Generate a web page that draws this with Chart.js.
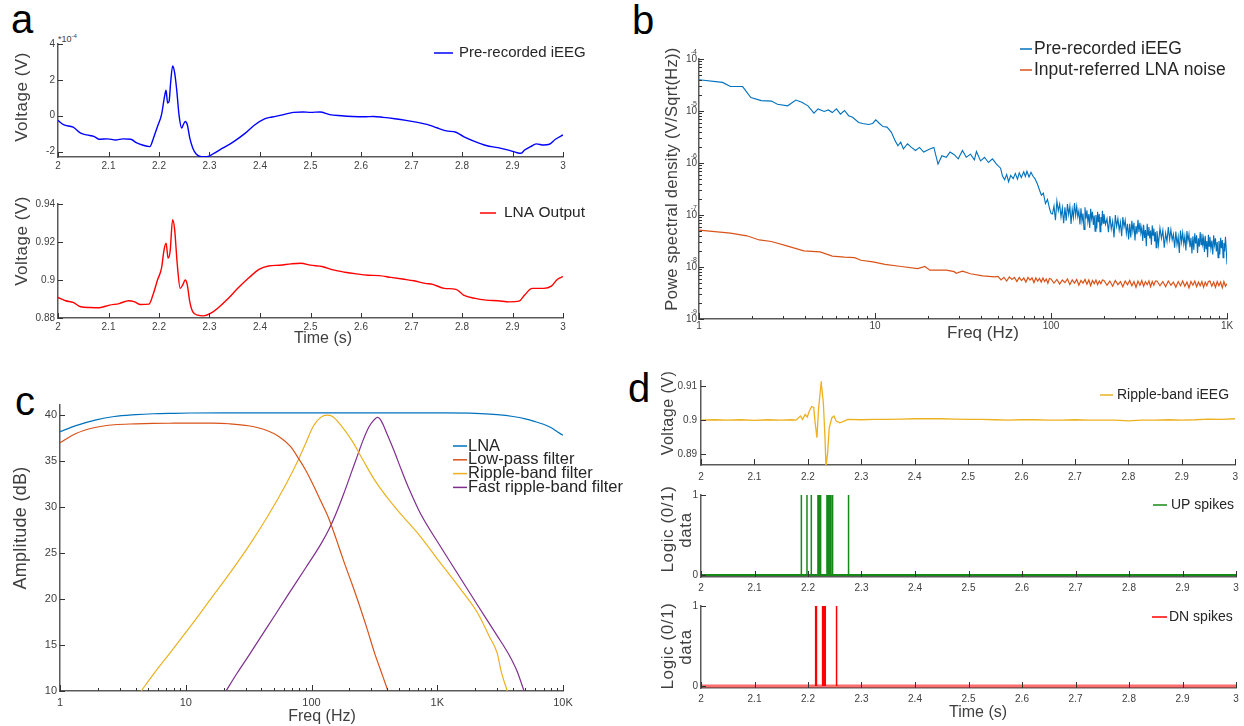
<!DOCTYPE html>
<html><head><meta charset="utf-8">
<script src="https://cdn.jsdelivr.net/npm/chart.js@4/dist/chart.umd.min.js"></script>
<style>
html,body{margin:0;padding:0;background:#fff;width:1244px;height:726px;overflow:hidden;position:relative;font-family:'Liberation Sans',Arial,sans-serif;}
canvas{position:absolute;}
.lbl{position:absolute;font-size:40px;line-height:40px;color:#000;}
.exp{position:absolute;font-size:9px;line-height:10px;color:#404040;}
.exp sup{font-size:6px;}
</style></head><body>
<div class="lbl" style="left:11px;top:-1px">a</div>
<div class="lbl" style="left:632px;top:0px">b</div>
<div class="lbl" style="left:15px;top:381px">c</div>
<div class="lbl" style="left:628px;top:368px">d</div>
<div class="exp" style="left:58px;top:31px">*10<sup>-4</sup></div>
<canvas id="cA1"></canvas><canvas id="cA2"></canvas><canvas id="cB"></canvas><canvas id="cC"></canvas>
<canvas id="cD1"></canvas><canvas id="cD2"></canvas><canvas id="cD3"></canvas>
<script>
// ---------------- DATA ----------------
// Panel a (top): pre-recorded iEEG, in units of 1e-4 V
const timeA = [2.0,2.011,2.03,2.045,2.057,2.072,2.082,2.098,2.114,2.129,2.144,2.155,2.167,2.182,2.189,2.197,2.205,2.211,2.214,2.217,2.22,2.223,2.227,2.231,2.235,2.24,2.245,2.248,2.252,2.256,2.261,2.267,2.274,2.284,2.295,2.307,2.326,2.348,2.371,2.39,2.409,2.424,2.447,2.466,2.485,2.5,2.519,2.538,2.561,2.583,2.606,2.625,2.644,2.667,2.689,2.712,2.735,2.75,2.769,2.788,2.803,2.826,2.848,2.871,2.894,2.909,2.917,2.924,2.936,2.947,2.962,2.973,2.985,3.0];
const iEEG = [-0.26,-0.5,-0.64,-0.97,-1.07,-1.16,-1.31,-1.29,-1.35,-1.29,-1.31,-1.5,-1.63,-1.72,-1.25,-0.6,0.06,1.08,1.42,0.71,0.8,1.83,2.77,2.39,1.46,-0.04,-0.69,-0.5,-0.32,-0.5,-1.25,-1.81,-2.15,-2.28,-2.28,-2.13,-1.81,-1.44,-0.97,-0.5,-0.17,-0.07,0.06,0.19,0.21,0.19,0.21,0.06,0,-0.04,-0.06,-0.04,-0.09,-0.17,-0.26,-0.37,-0.52,-0.67,-0.84,-0.92,-1.16,-1.44,-1.66,-1.78,-1.93,-2.06,-2.09,-1.91,-1.72,-1.57,-1.63,-1.59,-1.31,-1.07];
// Panel a (bottom): LNA output, V
const timeLNA = [2.0,2.015,2.03,2.045,2.064,2.082,2.102,2.121,2.14,2.152,2.163,2.18,2.188,2.197,2.205,2.21,2.214,2.218,2.222,2.227,2.231,2.236,2.242,2.247,2.252,2.256,2.261,2.267,2.277,2.288,2.302,2.318,2.337,2.356,2.379,2.398,2.417,2.439,2.462,2.481,2.5,2.523,2.545,2.568,2.591,2.614,2.636,2.659,2.682,2.705,2.727,2.742,2.765,2.788,2.803,2.826,2.848,2.871,2.894,2.913,2.924,2.939,2.962,2.977,2.989,3.0];
const lnaOut = [0.8908,0.8891,0.8882,0.8859,0.8855,0.8854,0.8868,0.8876,0.8891,0.8885,0.8871,0.8873,0.8921,0.9,0.9062,0.9159,0.9194,0.9115,0.915,0.9318,0.9265,0.9088,0.8956,0.8974,0.9,0.8974,0.8885,0.8832,0.8815,0.8811,0.8824,0.8855,0.8903,0.8956,0.9014,0.9056,0.9074,0.9078,0.9085,0.9088,0.9078,0.9071,0.9053,0.9041,0.9032,0.9025,0.9023,0.9014,0.9005,0.8996,0.8982,0.8977,0.8956,0.8951,0.8921,0.8903,0.8894,0.8891,0.8885,0.8889,0.8921,0.8956,0.8956,0.8968,0.9004,0.9018];
// Panel b: spectral densities, stored as log10 of V/sqrt(Hz)
const freqIEEG = [1,1.36,1.51,1.77,1.97,2.26,2.58,2.79,3.19,3.55,3.84,4.16,4.5,4.75,5.14,5.43,5.72,6.04,6.36,6.71,7.08,7.46,8.07,8.5,9.2,9.7,10.1,10.6,11.1,11.7,12.4,13.0,13.5,14.0,14.5,15.3,16.1,17.0,17.9,18.9,20.5,21.6,22.8,24.0,25.4,26.7,28.2,29.7,31.4,33.0,34.9,36.7,37.7,39.8,41.9,44.1,46.5,49.0,
 51.7,53,54.5,56,57.4,59,61,62.7,64.5,66,67.8,70,71.5,73,75,77,79.2,81,83.6,86,88.2,90.5,93,95.5,98.2,
 100,102,104,106,108,110,112,114,116,118, 120,122,124,126,128,130,132,134,136,138, 140,142,144,146,148,150,152,154,156,158,
 160,162,164,166,168,170,172,174,176,178, 180,182,184,186,188,190,192,194,196,198,
 200,204,208,212,216,220,224,228,232,236, 240,244,248,252,256,260,264,268,272,276, 280,284,288,292,296,300,304,308,312,316,
 320,324,328,332,336,340,344,348,352,356, 360,364,368,372,376,380,384,388,392,396,
 400,408,416,424,432,440,448,456,464,472, 480,488,496,504,512,520,528,536,544,552, 560,568,576,584,592,600,608,616,624,632,
 640,648,656,664,672,680,688,696,704,712, 720,728,736,744,752,760,768,776,784,792,
 800,810,820,830,840,850,860,870,880,890, 900,910,920,930,940,950,960,970,980,990,1000];
const psdIEEGExp = [-4.40,-4.45,-4.53,-4.53,-4.74,-4.80,-4.81,-4.87,-4.90,-4.79,-4.83,-4.90,-5.04,-4.96,-5.01,-4.98,-5.03,-4.96,-5.06,-4.99,-5.09,-5.12,-5.22,-5.24,-5.26,-5.24,-5.17,-5.24,-5.30,-5.31,-5.41,-5.57,-5.67,-5.60,-5.73,-5.63,-5.70,-5.76,-5.70,-5.79,-5.73,-5.70,-6.02,-5.86,-5.89,-5.79,-5.84,-5.92,-5.76,-5.89,-5.83,-5.94,-5.78,-5.96,-5.89,-5.99,-5.92,-6.02,
 -6.10,-6.25,-6.32,-6.22,-6.36,-6.24,-6.30,-6.20,-6.31,-6.19,-6.28,-6.17,-6.26,-6.16,-6.27,-6.18,-6.26,-6.30,-6.40,-6.52,-6.62,-6.58,-6.78,-6.70,-6.88,
 -6.97,-6.98,-6.83,-7.10,-6.73,-6.92,-6.79,-7.04,-6.86,-7.16, -6.85,-7.11,-6.79,-6.99,-6.83,-7.17,-6.89,-7.05,-6.77,-7.01, -6.83,-7.03,-6.92,-7.18,-6.87,-7.12,-6.97,-7.28,-6.85,-7.07,
 -6.91,-7.13,-6.98,-7.25,-6.88,-7.07,-6.94,-7.19,-7.01,-7.31, -7.00,-7.26,-6.94,-7.14,-6.98,-7.32,-7.04,-7.20,-6.92,-7.16,
 -6.98,-7.18,-7.07,-7.33,-7.02,-7.27,-7.12,-7.43,-7.00,-7.22, -7.07,-7.29,-7.14,-7.41,-7.04,-7.23,-7.10,-7.35,-7.17,-7.47, -7.17,-7.43,-7.11,-7.31,-7.15,-7.49,-7.21,-7.37,-7.09,-7.33,
 -7.15,-7.35,-7.24,-7.50,-7.19,-7.44,-7.29,-7.60,-7.17,-7.39, -7.23,-7.45,-7.30,-7.57,-7.20,-7.39,-7.26,-7.51,-7.33,-7.63,
 -7.31,-7.57,-7.25,-7.45,-7.29,-7.63,-7.35,-7.51,-7.23,-7.47, -7.28,-7.48,-7.37,-7.63,-7.32,-7.57,-7.42,-7.73,-7.30,-7.52, -7.34,-7.56,-7.41,-7.68,-7.31,-7.50,-7.37,-7.62,-7.44,-7.74,
 -7.41,-7.67,-7.35,-7.55,-7.39,-7.73,-7.45,-7.61,-7.33,-7.57, -7.36,-7.56,-7.45,-7.71,-7.40,-7.65,-7.50,-7.81,-7.38,-7.60,
 -7.42,-7.64,-7.49,-7.76,-7.39,-7.58,-7.45,-7.70,-7.52,-7.82, -7.50,-7.76,-7.44,-7.64,-7.48,-7.82,-7.54,-7.70,-7.42,-7.66,-7.95];
const freqNoise = [1,1.51,1.87,2.2,2.58,3.19,3.94,4.88,5.72,6.71,7.66,8.32,9.74,11.4,14.1,17.5,19.2,20.5,25.4,28.2,28.9,31.4,34.9,40.9,47.9,
 50,52,54,56,58,60,62,64,66,68,70,72,74,76,78,80,82,84,86,88,90,92,94,96,98,
 100,104,108,112,116,120,124,128,132,136,140,144,148,152,156,160,164,168,172,176,180,184,188,192,196,
 200,208,216,224,232,240,248,256,264,272,280,288,296,304,312,320,328,336,344,352,360,368,376,384,392,
 400,416,432,448,464,480,496,512,528,544,560,576,592,608,624,640,656,672,688,704,720,736,752,768,784,
 800,820,840,860,880,900,920,940,960,980,1000];
const psdNoiseExp = [-7.29,-7.35,-7.40,-7.48,-7.51,-7.60,-7.69,-7.71,-7.79,-7.81,-7.82,-7.87,-7.90,-7.95,-7.99,-8.03,-7.99,-8.06,-8.06,-8.09,-8.12,-8.08,-8.13,-8.17,-8.19,
 -8.18,-8.25,-8.20,-8.27,-8.19,-8.24,-8.20,-8.28,-8.20,-8.26,-8.21,-8.29,-8.20,-8.25,-8.21,-8.30,-8.21,-8.27,-8.22,-8.29,-8.21,-8.28,-8.23,-8.31,-8.22,
 -8.23,-8.31,-8.24,-8.33,-8.25,-8.30,-8.23,-8.34,-8.25,-8.31,-8.24,-8.35,-8.26,-8.31,-8.24,-8.33,-8.25,-8.36,-8.26,-8.32,-8.25,-8.34,-8.27,-8.32,-8.25,
 -8.26,-8.35,-8.27,-8.37,-8.26,-8.34,-8.28,-8.38,-8.27,-8.34,-8.26,-8.36,-8.28,-8.39,-8.27,-8.35,-8.26,-8.37,-8.28,-8.34,-8.27,-8.38,-8.28,-8.35,-8.27,
 -8.27,-8.36,-8.28,-8.38,-8.27,-8.35,-8.29,-8.39,-8.28,-8.36,-8.27,-8.37,-8.29,-8.40,-8.28,-8.35,-8.27,-8.38,-8.29,-8.36,-8.28,-8.39,-8.29,-8.36,-8.28,
 -8.27,-8.37,-8.29,-8.39,-8.28,-8.36,-8.29,-8.40,-8.28,-8.37,-8.32];
// Panel c: amplitude responses (dB)
const freqLNA = [1,1.34,1.9,2.7,4,5.5,8,11,20,50,100,200,500,1000,2000,3000,4000,5000,6000,7000,8000,9000,10000];
const ampLNA  = [38.2,38.85,39.45,39.85,40.05,40.15,40.2,40.23,40.25,40.25,40.25,40.25,40.25,40.24,40.2,40.05,39.85,39.6,39.3,39.0,38.65,38.2,37.8];
const freqLP = [1,1.34,1.9,2.7,4,5.5,8,11,16,22,31.5,44.7,55,68,78.6,89.5,103,119,137,158,181,209,240,276,318,366,406];
const ampLP  = [37.0,38.0,38.65,38.95,39.05,39.1,39.12,39.13,39.12,39.06,38.84,38.3,37.68,36.59,35.32,34.05,32.42,30.6,28.79,26.43,24.07,21.71,19.35,16.81,14.09,11.73,10.0];
const freqRB = [4.42,5.45,7.75,11,15.6,22.2,31.5,44.7,63.3,78.6,90,103,119,133,147,169,208,256,317,392,520,735,1040,1480,2100,2600,3000,3200,3600];
const ampRB  = [10,11.7,14.4,17.1,19.9,22.73,25.7,28.97,32.6,35.14,36.95,38.77,39.78,40.0,39.85,39.0,37.3,35.14,32.96,31.2,29.15,26.8,24.07,21.35,18.45,15.9,14.1,12.3,10];
const freqFR = [20.9,25.5,31.5,44.7,63.3,90,119,139,160,181,208,232,256,286,313,334,350,370,392,451,520,600,735,1040,1400,2100,3000,3700,4300,4900];
const ampFR  = [10,11.9,13.8,17.0,20.2,23.4,26.0,27.7,29.6,31.5,33.8,35.6,37.2,38.7,39.45,39.75,39.6,39.0,38.2,36.2,34.0,31.9,29.3,25.9,23.1,19.3,16.0,14.0,12.2,10];
// Panel d
const timeRipple = [2.0,2.025,2.05,2.075,2.1,2.125,2.15,2.17,2.178,2.186,2.19,2.195,2.199,2.202,2.207,2.211,2.213,2.217,2.22,2.225,2.229,2.232,2.234,2.237,2.24,2.245,2.249,2.253,2.26,2.268,2.275,2.3,2.325,2.35,2.375,2.4,2.425,2.45,2.475,2.5,2.525,2.55,2.575,2.6,2.625,2.65,2.675,2.7,2.725,2.75,2.775,2.8,2.825,2.85,2.875,2.9,2.925,2.95,2.975,3.0];
const rippleV = [0.9,0.9001,0.9,0.9001,0.8999,0.9001,0.9,0.9001,0.9,0.9012,0.9002,0.9017,0.9009,0.9024,0.904,0.9037,0.9002,0.8948,0.9032,0.9111,0.9051,0.8952,0.8862,0.8903,0.8977,0.9007,0.9012,0.8997,0.8992,0.8997,0.9002,0.9001,0.9002,0.9002,0.9003,0.9004,0.9004,0.9004,0.9003,0.9002,0.9002,0.9001,0.9,0.9001,0.9001,0.9,0.9,0.9001,0.9,0.9,0.9,0.8998,0.9,0.9,0.9001,0.9,0.9001,0.9003,0.9002,0.9004];
const upSpikes = [2.1876,2.1981,2.2062,2.2186,2.2205,2.2224,2.2236,2.2354,2.2379,2.2404,2.2429,2.2460,2.2758];
const dnSpikes = [2.2143,2.2158,2.2273,2.2285,2.2298,2.2310,2.2323,2.2534];
// Ticks
const timeTicks = [2,2.1,2.2,2.3,2.4,2.5,2.6,2.7,2.8,2.9,3];
const timeLabels = ['2','2.1','2.2','2.3','2.4','2.5','2.6','2.7','2.8','2.9','3'];
const a1Ticks = [-2,0,2,4], a1Labels = ['-2','0','2','4'];
const a2Ticks = [0.88,0.9,0.92,0.94], a2Labels = ['0.88','0.9','0.92','0.94'];
const minorMult = [2,3,4,5,6,7,8,9];
const freqMajorB = [1,10,100,1000], freqLabelsB = ['1','10','100','1K'];
const psdMajor = [1e-9,1e-8,1e-7,1e-6,1e-5,1e-4], psdLabels = ['10','10','10','10','10','10'], psdExpLabels = ['-9','-8','-7','-6','-5','-4'];
const freqMajorC = [1,10,100,1000,10000], freqLabelsC = ['1','10','100','1K','10K'];
const ampTicks = [10,15,20,25,30,35,40], ampLabels = ['10','15','20','25','30','35','40'];
const d1Ticks = [0.89,0.9,0.91], d1Labels = ['0.89','0.9','0.91'];
const logicTicks = [0,1], logicLabels = ['0','1'];

// ---------------- STYLE / HELPERS ----------------
const FONT = "'Liberation Sans', Arial, Helvetica, sans-serif";
const AXIS = '#5a5a5a', TICK = '#404040', TITLE = '#404040', LEG = '#262626';
Chart.defaults.font.family = FONT;

function withMinors(majors){ return majors.flatMap((d,i)=> i < majors.length-1 ? [d, ...minorMult.map(m=>m*d)] : [d]); }
function xy(xs, ys){ return xs.map((x,i)=>({x, y: ys[i]})); }
function labelFor(majors, labels){ return v => { const i = majors.findIndex(m => Math.abs(m - v) <= Math.abs(m)*1e-6 + 1e-12); return i < 0 ? '' : labels[i]; }; }
function axis(type, min, max, allTicks, majors, labels, size, pad){
  return { type, min, max,
    grid:{display:false, drawTicks:false},
    border:{display:true, color:AXIS, width:1.5},
    afterBuildTicks: s => { s.ticks = allTicks.map(v => ({value:v})); },
    ticks:{autoSkip:false, maxRotation:0, minRotation:0, padding:pad, color:TICK, font:{family:FONT, size}, callback: labelFor(majors, labels)}
  };
}
function line(label, xs, ys, color, w, extra){
  return Object.assign({label, data: xy(xs, ys), borderColor: color, backgroundColor: color, borderWidth: w||1.3, showLine:true, pointRadius:0, fill:false}, extra||{});
}
function spikes(label, ts, color, w){
  return {label, data: ts.flatMap(t=>[{x:t,y:0},{x:t,y:1},{x:t,y:null}]), borderColor:color, backgroundColor:color, borderWidth:w, showLine:true, pointRadius:0, spanGaps:false};
}

const freeText = {
  id:'freeText',
  afterDraw(chart, args, o){
    if (!o || o.ox === undefined) return;
    const ctx = chart.ctx;
    (o.texts||[]).forEach(it=>{
      ctx.save();
      ctx.font = it.font; ctx.fillStyle = it.color || TITLE;
      if ('letterSpacing' in ctx) ctx.letterSpacing = (it.ls||0) + 'px';
      ctx.textAlign = 'center'; ctx.textBaseline = 'middle';
      ctx.translate(it.x - o.ox, it.y - o.oy);
      if (it.rot) ctx.rotate(it.rot*Math.PI/180);
      ctx.fillText(it.text, 0, 0);
      ctx.restore();
    });
    const lg = o.legend;
    if (lg){
      const items = chart.data.datasets.filter(d=>d.label);
      items.forEach((d,i)=>{
        const y = lg.y + i*(lg.rowH||0) - o.oy;
        ctx.save();
        ctx.strokeStyle = d.borderColor; ctx.lineWidth = lg.lw || 1.5;
        ctx.beginPath(); ctx.moveTo(lg.x - o.ox, y); ctx.lineTo(lg.x + lg.len - o.ox, y); ctx.stroke();
        ctx.font = lg.font; ctx.fillStyle = LEG; ctx.textAlign = 'left'; ctx.textBaseline = 'middle';
        ctx.fillText(d.label, lg.x + lg.len + lg.gap - o.ox, y);
        ctx.restore();
      });
    }
  }
};
const inTicks = {
  id:'inTicks',
  afterDatasetsDraw(chart, args, o){
    if (!o || !o.x) return;
    const ctx = chart.ctx, a = chart.chartArea;
    ctx.save(); ctx.strokeStyle = '#333'; ctx.lineWidth = 1;
    ['x','y'].forEach(id=>{
      const s = chart.scales[id], c = o[id];
      s.ticks.forEach(t=>{
        const len = (t.label === '' || t.label == null) ? c.minor : c.major;
        if (!len) return;
        const p = Math.round(s.getPixelForValue(t.value)) + 0.5;
        ctx.beginPath();
        if (id === 'x'){ ctx.moveTo(p, a.bottom); ctx.lineTo(p, a.bottom - len); }
        else { ctx.moveTo(a.left, p); ctx.lineTo(a.left + len, p); }
        ctx.stroke();
      });
    });
    ctx.restore();
  }
};
const expLabels = {
  id:'expLabels',
  afterDraw(chart, args, o){
    if (!o || !o.values) return;
    const ctx = chart.ctx, a = chart.chartArea, s = chart.scales.y;
    ctx.save(); ctx.font = o.font; ctx.fillStyle = TICK; ctx.textAlign = 'right'; ctx.textBaseline = 'middle';
    o.values.forEach((v,i)=> ctx.fillText(o.labels[i], a.left - 2, s.getPixelForValue(v) - 7));
    ctx.restore();
  }
};
Chart.register(freeText, inTicks, expLabels);

function makeChart(id, box, area, datasets, scales, plugins){
  const [cx, cy, cw, ch] = box, [L, T, R, B] = area;
  const cv = document.getElementById(id);
  cv.width = cw; cv.height = ch;
  Object.assign(cv.style, {left: cx+'px', top: cy+'px', width: cw+'px', height: ch+'px'});
  scales.x.afterFit = s => { s.height = cy + ch - B; };
  scales.y.afterFit = s => { s.width = L - cx; };
  plugins.freeText.ox = cx; plugins.freeText.oy = cy;
  return new Chart(cv, {
    type:'scatter',
    data:{datasets},
    options:{
      responsive:false, animation:false, devicePixelRatio:1,
      layout:{padding:{left:0, top:T - cy, right:cx + cw - R, bottom:0}},
      plugins:Object.assign({legend:{display:false}, tooltip:{enabled:false}}, plugins),
      scales
    }
  });
}
const F = (s) => `${s}px ${FONT}`;

// Panel a - top
makeChart('cA1', [0,35,600,145], [58,44,563,157],
  [line('Pre-recorded iEEG', timeA, iEEG, '#0000ff', 1.4, {cubicInterpolationMode:'monotone'})],
  {x: axis('linear', 2, 3, timeTicks, timeTicks, timeLabels, 10, 3),
   y: axis('linear', -2.3, 4, a1Ticks, a1Ticks, a1Labels, 10, 3)},
  {freeText:{texts:[{text:'Voltage (V)', x:22, y:97, rot:-90, font:F(17), ls:0.5}],
             legend:{x:434, y:53, len:19, gap:6, font:F(15)}},
   inTicks:{x:{major:5,minor:0}, y:{major:5,minor:0}}});

// Panel a - bottom
makeChart('cA2', [0,190,600,160], [58,204,563,318],
  [line('LNA Output', timeLNA, lnaOut, '#ff0000', 1.4, {cubicInterpolationMode:'monotone'})],
  {x: axis('linear', 2, 3, timeTicks, timeTicks, timeLabels, 10, 3),
   y: axis('linear', 0.88, 0.94, a2Ticks, a2Ticks, a2Labels, 10, 3)},
  {freeText:{texts:[{text:'Voltage (V)', x:22, y:241, rot:-90, font:F(17), ls:0.5},
                    {text:'Time (s)', x:323, y:339, font:F(16)}],
             legend:{x:480, y:213, len:16, gap:8, font:F(15.5)}},
   inTicks:{x:{major:5,minor:0}, y:{major:5,minor:0}}});

// Panel b
makeChart('cB', [620,28,624,317], [699,59,1227,319],
  [line('Pre-recorded iEEG', freqIEEG, psdIEEGExp.map(e=>Math.pow(10,e)), '#0072BD', 1.1),
   line('Input-referred LNA noise', freqNoise, psdNoiseExp.map(e=>Math.pow(10,e)), '#D95319', 1.2)],
  {x: axis('logarithmic', 1, 1000, withMinors(freqMajorB), freqMajorB, freqLabelsB, 10, 1),
   y: axis('logarithmic', 1e-9, 1e-4, withMinors(psdMajor), psdMajor, psdLabels, 10, 2)},
  {freeText:{texts:[{text:'Powe spectral density (V/Sqrt(Hz))', x:672, y:179, rot:-90, font:F(16.5), ls:0.3},
                    {text:'Freq (Hz)', x:983, y:333, font:F(17)}],
             legend:{x:1020, y:49, rowH:21, len:12, gap:2, font:F(17.5)}},
   inTicks:{x:{major:6,minor:3}, y:{major:5,minor:3}},
   expLabels:{values:psdMajor, labels:psdExpLabels, font:F(7)}});

// Panel c
makeChart('cC', [0,390,640,336], [60,405,563,691],
  [line('LNA', freqLNA, ampLNA, '#0072BD', 1.2, {cubicInterpolationMode:'monotone'}),
   line('Low-pass filter', freqLP, ampLP, '#D95319', 1.2, {cubicInterpolationMode:'monotone'}),
   line('Ripple-band filter', freqRB, ampRB, '#EDB120', 1.2, {cubicInterpolationMode:'monotone'}),
   line('Fast ripple-band filter', freqFR, ampFR, '#7E2F8E', 1.2, {cubicInterpolationMode:'monotone'})],
  {x: axis('logarithmic', 1, 10000, withMinors(freqMajorC), freqMajorC, freqLabelsC, 11, 5),
   y: axis('linear', 10, 41.1, ampTicks, ampTicks, ampLabels, 11, 3)},
  {freeText:{texts:[{text:'Amplitude (dB)', x:21, y:528, rot:-90, font:F(18), ls:0.3},
                    {text:'Freq (Hz)', x:322, y:717, font:F(16)}],
             legend:{x:453, y:446, rowH:13.8, len:14, gap:1, font:F(16.5)}},
   inTicks:{x:{major:6,minor:3}, y:{major:5,minor:0}}});

// Panel d1
makeChart('cD1', [620,358,624,122], [701,381,1236,465],
  [line('Ripple-band iEEG', timeRipple, rippleV, '#EDB120', 1.3)],
  {x: axis('linear', 2, 3, timeTicks, timeTicks, timeLabels, 10, 6),
   y: axis('linear', 0.8868, 0.9115, d1Ticks, d1Ticks, d1Labels, 10, 4)},
  {freeText:{texts:[{text:'Voltage (V)', x:669, y:413, rot:-90, font:F(16), ls:0.5}],
             legend:{x:1100, y:395, len:13, gap:4, font:F(14)}},
   inTicks:{x:{major:6,minor:0}, y:{major:5,minor:0}}});

// Panel d2
makeChart('cD2', [620,480,624,115], [701,495,1236,577],
  [spikes('UP spikes', upSpikes, '#168a16', 1.5),
   line('', [2,3], [0,0], '#168a16', 2)],
  {x: axis('linear', 2, 3, timeTicks, timeTicks, timeLabels, 10, 5),
   y: axis('linear', -0.025, 1, logicTicks, logicTicks, logicLabels, 10, 3)},
  {freeText:{texts:[{text:'Logic (0/1)', x:668, y:529, rot:-90, font:F(17), ls:0.6},
                    {text:'data', x:686, y:530, rot:-90, font:F(17), ls:0.6}],
             legend:{x:1153, y:505, len:14, gap:4, font:F(14)}},
   inTicks:{x:{major:6,minor:0}, y:{major:5,minor:0}}});

// Panel d3
makeChart('cD3', [620,595,624,131], [701,606,1236,688],
  [spikes('DN spikes', dnSpikes, '#ff0000', 1.5),
   line('', [2,3], [0,0], 'rgba(255,60,60,0.75)', 3)],
  {x: axis('linear', 2, 3, timeTicks, timeTicks, timeLabels, 10, 5),
   y: axis('linear', -0.025, 1, logicTicks, logicTicks, logicLabels, 10, 3)},
  {freeText:{texts:[{text:'Logic (0/1)', x:668, y:646, rot:-90, font:F(17), ls:0.6},
                    {text:'data', x:686, y:647, rot:-90, font:F(17), ls:0.6},
                    {text:'Time (s)', x:978, y:713, font:F(16)}],
             legend:{x:1152, y:617, len:15, gap:2, font:F(14)}},
   inTicks:{x:{major:6,minor:0}, y:{major:5,minor:0}}});
</script>
</body></html>
